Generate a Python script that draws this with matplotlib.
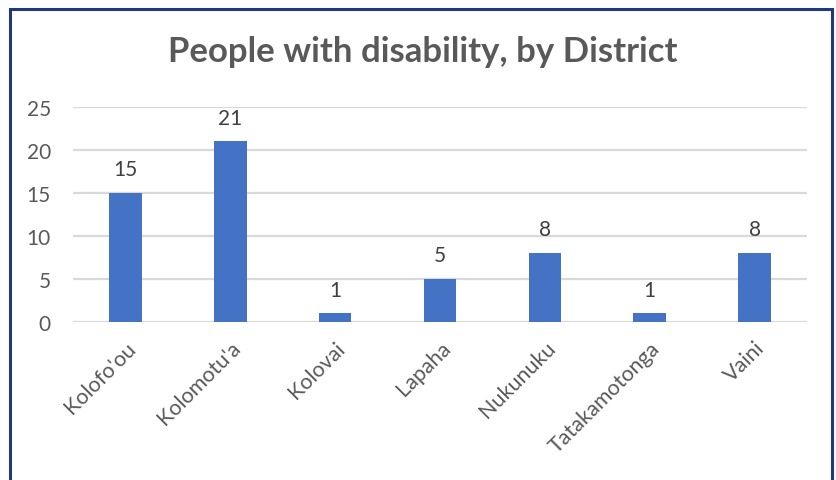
import matplotlib.pyplot as plt
from matplotlib.patches import Rectangle

districts = ["Kolofo'ou", "Kolomotu'a", "Kolovai", "Lapaha", "Nukunuku", "Tatakamotonga", "Vaini"]
counts = [15, 21, 1, 5, 8, 1, 8]
yticks = [0, 5, 10, 15, 20, 25]

plt.rcParams['font.family'] = ['Lato', 'DejaVu Sans']

fig = plt.figure(figsize=(8.36, 4.81), dpi=100)
ax = fig.add_axes([73 / 836, 1 - 323 / 481, 734 / 836, 215 / 481])

bars = ax.bar(range(len(districts)), counts, width=0.31, color="#4472C4", zorder=3)
for b, v in zip(bars, counts):
    ax.annotate(str(v), (b.get_x() + b.get_width() / 2, v), xytext=(0, 10),
                textcoords="offset points", ha="center", va="bottom",
                fontsize=15, color="#404040")

ax.set_xlim(-0.5, len(districts) - 0.5)
ax.set_ylim(0, 25)
ax.set_yticks(yticks)
ax.grid(axis="y", color="#D9D9D9", linewidth=1.6, zorder=0)
ax.tick_params(length=0, labelsize=15, labelcolor="#595959", pad=16)
ax.tick_params(axis="x", labelsize=15.5, pad=11)
ax.set_xticks(range(len(districts)))
ax.set_xticklabels(districts, rotation=45, ha="right", rotation_mode="anchor")
for s in ax.spines.values():
    s.set_visible(False)

fig.text(423 / 836, 1 - 52 / 481, "People with disability, by District",
         ha="center", va="center", fontsize=25, fontweight="bold", color="#595959")

fig.patches.append(Rectangle((10 / 836, -0.05), 822 / 836, 1.05 - 10 / 481,
                             transform=fig.transFigure, fill=False,
                             edgecolor="#1F3A7A", linewidth=2.2))

fig.savefig("out.png", dpi=100)
